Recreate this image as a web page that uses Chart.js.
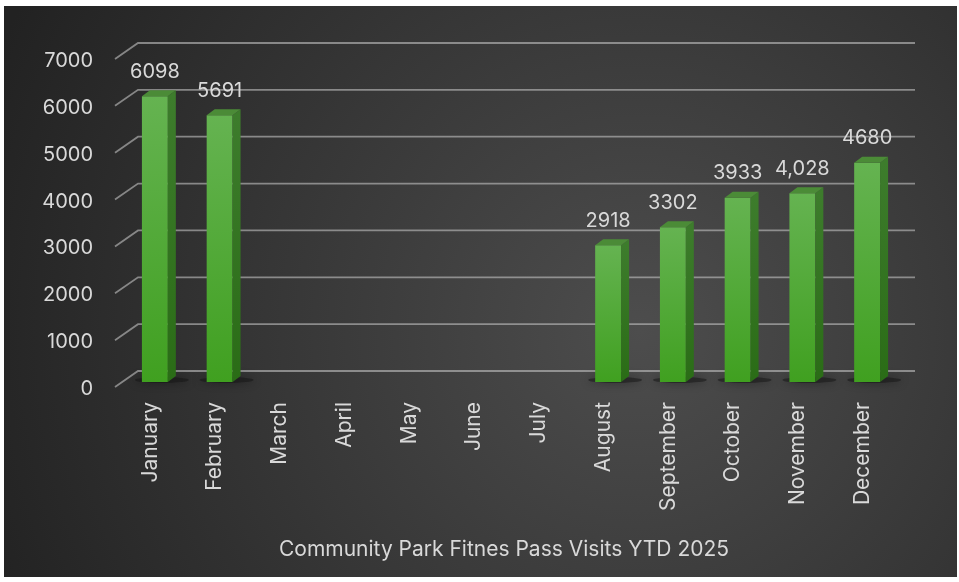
<!DOCTYPE html>
<html>
<head>
<meta charset="utf-8">
<script src="https://cdn.jsdelivr.net/npm/chart.js@4.4.1/dist/chart.umd.min.js"></script>
<style>
  html, body { margin: 0; padding: 0; background: #fff; }
  #wrap { width: 959px; height: 582px; }
</style>
</head>
<body>
<div id="wrap"><canvas id="chart" width="959" height="582"></canvas></div>
<script>
  // data
  const months = ['January', 'February', 'March', 'April', 'May', 'June', 'July',
    'August', 'September', 'October', 'November', 'December'];
  const visits = [6098, 5691, null, null, null, null, null, 2918, 3302, 3933, 4028, 4680];
  const visitLabels = ['6098', '5691', '', '', '', '', '', '2918', '3302', '3933', '4,028', '4680'];
  const yMin = 0;
  const yMax = 7000;
  const yStep = 1000;
  const chartTitle = 'Community Park Fitnes Pass Visits YTD 2025';

  const FONT = 'Inter, "Noto Sans", sans-serif';
  const TEXT = '#d9d9d9';

  // 3d look
  const WALL_DX = 23, WALL_DY = 16;   // back wall offset
  const SHIFT_X = 7.5, SHIFT_Y = 5;   // bars sit a bit behind the front plane
  const BAR_DX = 8, BAR_DY = 6;       // bar depth

  const panel = {
    id: 'panel',
    beforeDraw(chart) {
      const c = chart.ctx;
      c.save();
      const g = c.createRadialGradient(640, 330, 0, 640, 330, 700);
      g.addColorStop(0, '#4d4d4d');
      g.addColorStop(1, '#222222');
      c.fillStyle = g;
      c.fillRect(4, 6, 953, 571);
      c.restore();
    },
    afterDraw(chart) {
      const c = chart.ctx;
      c.save();
      c.fillStyle = TEXT;
      c.font = '21px ' + FONT;
      c.textAlign = 'center';
      c.textBaseline = 'middle';
      c.fillText(chartTitle, 504, 550);
      c.restore();
    }
  };

  const depth = {
    id: 'depth',
    beforeDatasetsDraw(chart) {
      const c = chart.ctx;
      const a = chart.chartArea;
      const y = chart.scales.y;
      c.save();
      c.strokeStyle = 'rgba(190,190,190,0.62)';
      c.lineWidth = 1.8;
      y.ticks.forEach(t => {
        const py = y.getPixelForValue(t.value);
        c.beginPath();
        c.moveTo(a.left, py);
        c.lineTo(a.left + WALL_DX, py - WALL_DY);
        c.lineTo(a.right + WALL_DX, py - WALL_DY);
        c.stroke();
      });
      c.restore();

      c.save();
      c.translate(SHIFT_X, -SHIFT_Y);
      // floor shadows
      const meta = chart.getDatasetMeta(0);
      meta.data.forEach((bar, i) => {
        if (visits[i] == null) return;
        const { x, base, width } = bar.getProps(['x', 'base', 'width'], true);
        c.save();
        c.shadowColor = 'rgba(0,0,0,0.8)';
        c.shadowBlur = 10;
        c.fillStyle = 'rgba(20,20,20,0.5)';
        c.beginPath();
        c.ellipse(x + BAR_DX / 2 + 3, base - 2, width / 2 + 14, 3, 0, 0, Math.PI * 2);
        c.fill();
        c.restore();
      });
    },
    afterDatasetsDraw(chart) {
      const c = chart.ctx;
      const meta = chart.getDatasetMeta(0);
      const pts = [];
      meta.data.forEach((bar, i) => {
        if (visits[i] == null) return;
        const { x, y, base, width } = bar.getProps(['x', 'y', 'base', 'width'], true);
        const l = x - width / 2, r = x + width / 2;
        const sg = c.createLinearGradient(0, y, 0, base);
        sg.addColorStop(0, '#3d7c2c');
        sg.addColorStop(1, '#2a6c16');
        c.fillStyle = sg;
        c.beginPath();
        c.moveTo(r, y);
        c.lineTo(r + BAR_DX, y - BAR_DY);
        c.lineTo(r + BAR_DX, base - BAR_DY);
        c.lineTo(r, base);
        c.closePath();
        c.fill();
        c.fillStyle = '#4b8b37';
        c.beginPath();
        c.moveTo(l, y);
        c.lineTo(l + BAR_DX, y - BAR_DY);
        c.lineTo(r + BAR_DX, y - BAR_DY);
        c.lineTo(r, y);
        c.closePath();
        c.fill();
        pts.push([x, y, i]);
      });
      c.restore();

      // value labels
      c.save();
      c.fillStyle = TEXT;
      c.font = '20px ' + FONT;
      c.textAlign = 'center';
      c.textBaseline = 'middle';
      pts.forEach(([x, y, i]) => {
        c.fillText(visitLabels[i], x + SHIFT_X, y - SHIFT_Y - 24.5);
      });
      c.restore();
    }
  };

  new Chart(document.getElementById('chart'), {
    type: 'bar',
    data: {
      labels: months,
      datasets: [{
        data: visits,
        categoryPercentage: 1,
        barPercentage: 0.4,
        backgroundColor(ctx) {
          const chart = ctx.chart;
          if (!chart.chartArea || ctx.raw == null) return '#4aa82a';
          const ys = chart.scales.y;
          const top = ys.getPixelForValue(ctx.raw);
          const base = ys.getPixelForValue(0);
          const g = chart.ctx.createLinearGradient(0, top, 0, base);
          g.addColorStop(0, '#65b351');
          g.addColorStop(1, '#40a020');
          return g;
        },
        borderWidth: 0
      }]
    },
    options: {
      responsive: false,
      animation: false,
      devicePixelRatio: 1,
      layout: { padding: { left: 0, right: 67, top: 59, bottom: 0 } },
      plugins: {
        legend: { display: false },
        tooltip: { enabled: false }
      },
      scales: {
        x: {
          grid: { display: false, drawTicks: false },
          border: { display: false },
          ticks: {
            color: TEXT,
            font: { family: FONT, size: 21 },
            minRotation: 90,
            maxRotation: 90,
            autoSkip: false,
            padding: 15,
            labelOffset: 3
          },
          afterFit(s) { s.height = 195; }
        },
        y: {
          min: yMin,
          max: yMax,
          grid: { display: false, drawTicks: false },
          border: { display: false },
          ticks: {
            stepSize: yStep,
            color: TEXT,
            font: { family: FONT, size: 20 },
            padding: 22,
            labelOffset: 2,
            callback: v => String(v)
          },
          afterFit(s) { s.width = 115; }
        }
      }
    },
    plugins: [panel, depth]
  });
</script>
</body>
</html>
